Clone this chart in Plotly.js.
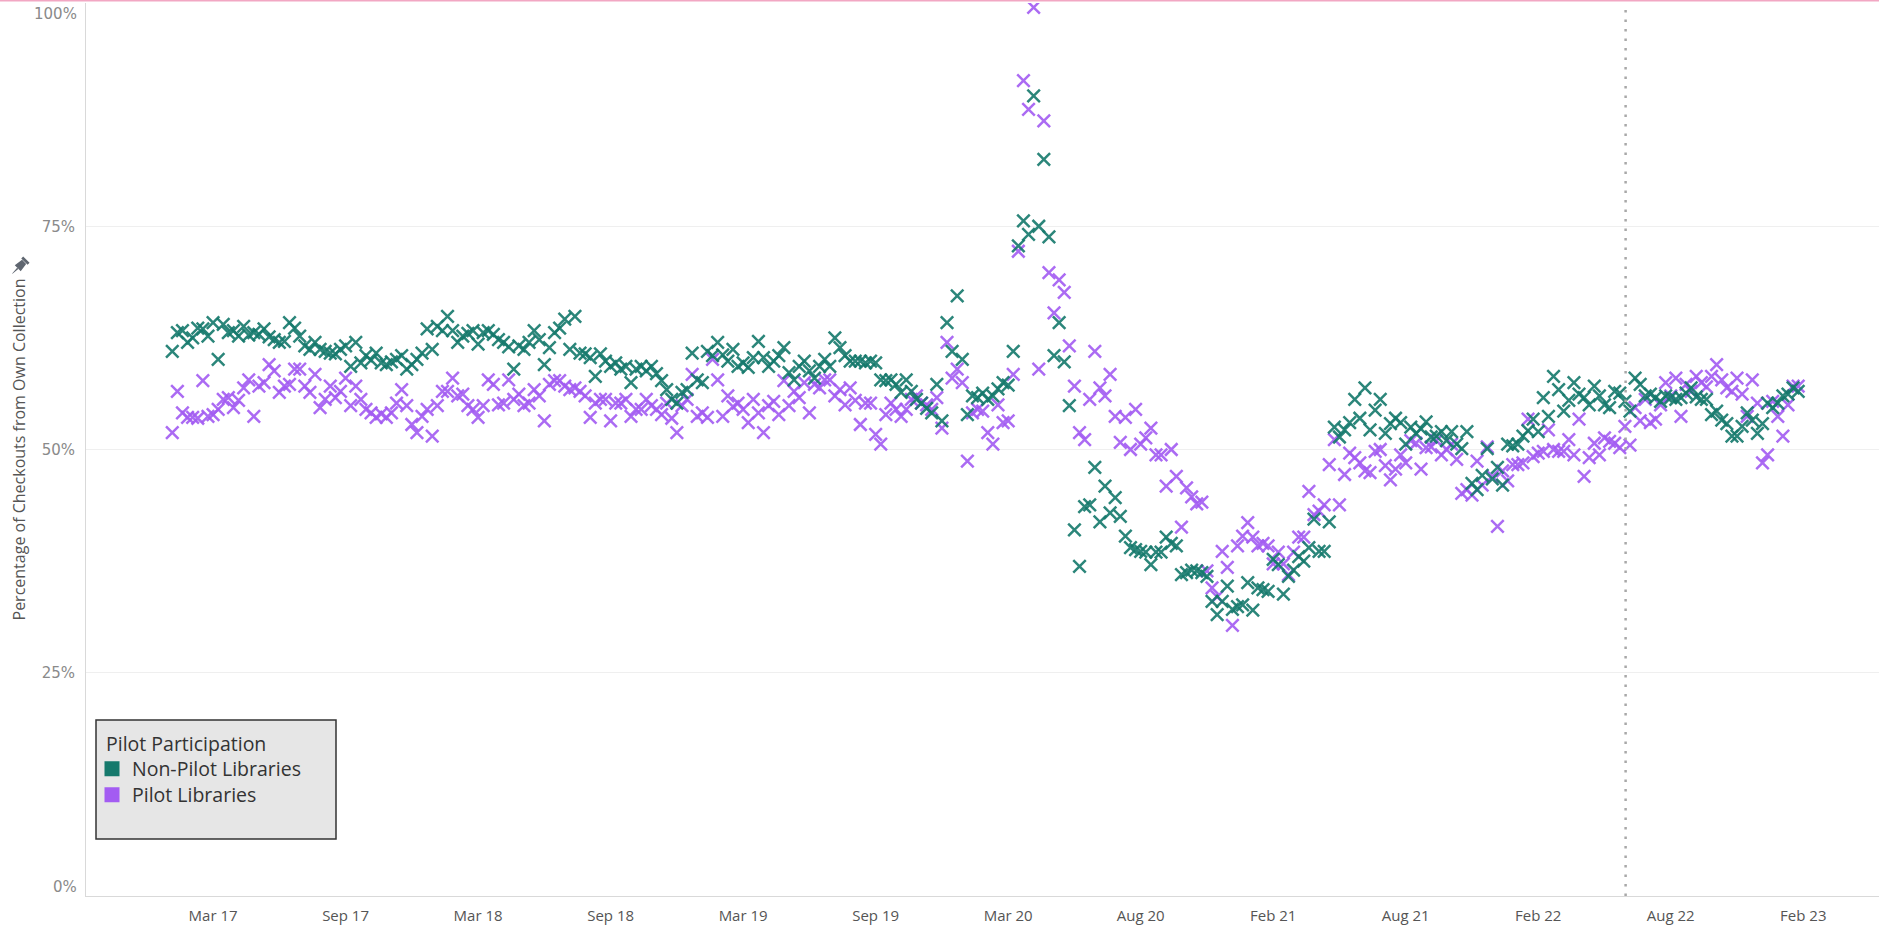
<!DOCTYPE html>
<html><head><meta charset="utf-8">
<script src="https://cdn.plot.ly/plotly-3.0.1.min.js"></script>
<style>html,body{margin:0;padding:0;background:#fff;overflow:hidden}#chart{width:1879px;height:928px}</style>
</head><body><div id="chart"></div>
<script>
// Weekly series, first week starting 2017-01-08
const FIRST_WEEK = '2017-01-08';

const nonPilot = [
61.0,63.1,63.3,62.0,62.5,63.6,63.5,62.7,64.2,60.1,
64.0,63.1,63.3,62.7,63.8,62.8,63.1,62.9,63.5,62.6,
62.3,62.0,62.1,64.2,63.6,62.7,61.6,61.2,62.0,61.2,
61.0,60.8,60.7,61.2,61.6,59.3,62.0,59.7,60.5,60.0,
60.8,59.7,59.5,59.8,60.1,60.5,59.0,59.5,60.1,60.8,
63.5,61.2,63.8,63.3,64.9,63.3,62.0,62.7,63.0,63.3,
61.8,63.1,63.3,62.9,62.3,62.0,61.5,59.0,61.6,61.2,
62.0,63.3,62.3,59.5,61.4,63.1,63.6,64.6,61.2,64.9,
60.8,60.7,60.3,58.2,60.7,59.9,59.3,59.7,59.0,59.3,
57.5,59.0,59.3,58.8,59.3,58.5,57.7,56.7,55.6,55.2,
56.4,56.7,60.8,57.8,57.5,61.0,60.5,62.0,60.6,59.9,
61.2,59.3,59.7,59.2,60.3,62.1,60.3,59.3,59.9,60.5,
61.4,58.6,57.8,59.3,59.9,58.8,58.0,59.3,60.1,59.3,
62.5,61.4,60.5,59.9,59.9,59.9,59.7,59.9,59.7,57.8,
57.7,57.8,57.3,56.4,57.8,56.5,55.6,55.2,54.6,54.1,
57.3,53.2,64.2,61.0,67.2,60.1,53.9,56.0,55.8,56.3,
55.6,56.0,56.8,57.5,57.2,61.0,72.8,75.6,74.1,89.6,
75.0,82.5,73.8,60.5,64.2,59.8,54.9,41.0,36.9,43.6,
43.8,48.0,41.9,45.9,42.9,44.6,42.5,40.3,39.0,38.8,
38.6,38.5,37.1,38.5,38.5,40.2,39.5,39.2,36.0,36.2,
36.5,36.4,36.2,35.8,33.0,31.5,33.0,34.7,32.1,32.4,
32.6,35.1,32.0,34.5,34.3,34.1,37.7,37.1,33.8,35.8,
36.5,38.0,37.5,39.0,42.2,38.6,38.6,41.9,52.5,51.4,
52.2,53.0,55.6,53.5,56.9,52.2,54.4,55.6,51.8,52.9,
53.5,53.0,50.6,52.5,51.8,52.3,53.1,51.4,51.5,52.0,
51.0,52.0,50.6,50.1,52.0,46.2,45.5,47.1,50.1,46.7,
48.0,46.0,50.6,50.4,50.6,51.5,52.1,53.4,52.0,55.8,
53.7,58.2,56.7,54.3,55.5,57.5,56.2,55.8,55.0,57.1,
56.0,55.0,54.7,56.5,56.3,55.4,54.3,58.0,57.3,56.0,
56.2,55.8,55.4,56.0,55.8,55.6,55.8,56.3,56.9,55.9,
55.6,55.6,53.9,54.3,53.3,52.9,51.5,51.5,52.6,54.1,
53.3,51.8,52.9,55.2,54.7,55.2,56.0,56.2,56.9,56.5
];

const pilot = [
51.9,56.5,54.1,53.6,53.6,53.5,57.7,53.7,53.9,54.5,
55.6,55.8,54.7,55.5,56.9,57.8,53.7,57.1,57.5,59.5,
58.8,56.4,57.1,57.3,59.0,59.0,57.1,56.4,58.4,54.7,
55.6,57.1,55.8,56.5,58.0,54.9,57.1,55.6,54.5,54.1,
53.6,54.0,53.6,54.1,55.2,56.7,54.9,52.8,51.9,53.7,
54.5,51.5,54.9,56.5,56.5,58.0,56.0,56.2,54.9,54.5,
53.6,54.9,57.8,57.3,55.0,55.2,57.8,55.6,56.2,54.9,
55.2,56.7,56.0,53.2,57.3,57.7,57.7,57.1,56.7,56.9,
56.5,56.0,53.6,55.2,55.6,55.6,53.2,55.2,55.2,55.6,
53.7,54.5,54.5,55.6,54.9,54.5,53.9,55.2,53.5,51.9,
54.9,55.6,58.4,53.7,54.1,53.6,60.1,57.8,53.7,56.0,
54.8,55.2,54.5,53.0,55.6,54.1,51.9,54.9,55.4,53.9,
57.7,54.9,56.5,55.8,57.5,54.1,57.3,56.9,57.8,57.8,
56.0,56.7,55.0,56.9,55.5,52.8,55.2,55.2,51.7,50.6,
53.9,55.2,54.5,53.7,54.5,55.6,56.0,55.2,55.0,54.5,
55.8,52.4,62.0,58.0,59.0,57.5,48.7,54.1,54.5,54.3,
51.9,50.6,55.0,53.0,53.2,58.4,72.2,91.3,88.1,99.5,
59.0,86.8,69.8,65.3,69.0,67.6,61.6,57.1,51.9,51.1,
55.6,61.0,56.9,56.0,58.4,53.7,50.8,53.6,50.0,54.5,
50.6,51.3,52.4,49.4,49.4,45.9,50.0,47.0,41.3,45.7,
44.7,43.9,44.1,36.4,34.5,33.5,38.6,36.8,30.3,39.2,
40.3,41.8,40.2,39.2,39.5,39.2,37.2,38.5,37.2,36.0,
38.5,40.2,40.2,45.3,42.7,43.1,43.8,48.3,51.1,43.8,
47.2,49.6,49.1,48.5,47.6,47.4,49.8,50.0,48.2,46.6,
47.8,49.4,48.5,51.0,50.7,47.8,50.2,50.3,51.0,49.4,
50.0,50.6,48.9,45.1,45.5,44.9,48.7,46.0,50.3,47.0,
41.4,47.6,46.5,48.3,48.3,48.5,53.4,49.2,49.6,49.8,
52.2,50.0,49.8,49.8,51.1,49.4,53.4,47.0,49.1,50.7,
49.4,51.3,50.9,50.7,50.2,52.6,50.5,54.7,53.2,55.6,
53.0,53.4,55.0,57.5,56.0,58.0,53.7,57.3,56.5,58.2,
57.5,57.0,58.2,59.5,57.8,56.9,56.5,58.0,56.2,53.7,
57.8,55.2,48.5,49.4,55.4,53.7,51.5,55.0,57.1,57.1
];

const seriesNames = ['Non-Pilot Libraries', 'Pilot Libraries'];
const legendTitle = 'Pilot Participation';
const yTitle = 'Percentage of Checkouts from Own Collection';
const tickDates = ['2017-03-05','2017-09-03','2018-03-04','2018-09-02','2019-03-03','2019-09-01','2020-03-01','2020-08-30','2021-02-28','2021-08-29','2022-02-27','2022-08-28','2023-02-26'];
const tickLabels = ['Mar 17','Sep 17','Mar 18','Sep 18','Mar 19','Sep 19','Mar 20','Aug 20','Feb 21','Aug 21','Feb 22','Aug 22','Feb 23'];
const yTickVals = [25, 50, 75];
const yTickLabels = ['25%', '50%', '75%'];
const yEdgeVals = [0, 100];
const yEdgeLabels = ['0%', '100%'];
const pilotStartDate = '2022-06-27';

const TEAL = '#15796c';
const PURPLE = '#a35cf2';

function weekDates(n) {
  const p = FIRST_WEEK.split('-').map(Number);
  const t0 = Date.UTC(p[0], p[1] - 1, p[2]);
  const out = [];
  for (let i = 0; i < n; i++) out.push(new Date(t0 + i * 7 * 86400000).toISOString().slice(0, 10));
  return out;
}
const weeks = weekDates(nonPilot.length);

function markerTrace(vals, name, color) {
  return {
    type: 'scatter', mode: 'markers', x: weeks, y: vals, name: name,
    showlegend: false, hoverinfo: 'x+y+name',
    marker: { symbol: 'x-thin', size: 12.5, color: color, opacity: 0.9, line: { width: 2.5, color: color } },
    cliponaxis: true
  };
}
function legendTrace(name, color, legendId) {
  return {
    type: 'scatter', mode: 'markers', x: [null], y: [null], name: name,
    showlegend: true, hoverinfo: 'skip', legend: legendId,
    marker: { symbol: 'square', size: 15, color: color }
  };
}

const data = [
  markerTrace(pilot, seriesNames[1], PURPLE),
  markerTrace(nonPilot, seriesNames[0], TEAL),
  legendTrace(seriesNames[0], TEAL, 'legend'),
  legendTrace(seriesNames[1], PURPLE, 'legend2')
];

const W = 1879, H = 928, ML = 86, MR = 0, MT = 3, MB = 32;
const PW = W - ML - MR, PH = H - MT - MB;
const px = v => (v - ML) / PW;          // page x -> paper x
const py = v => (H - MB - v) / PH;      // page y -> paper y

// pushpin icon next to the axis title (page-pixel geometry, rotated 45deg)
function pinPath(cx, cy, s) {
  const polys = [
    [[-0.6,2],[0.6,2],[0.15,7.5],[-0.15,7.5]],
    [[-2,-4],[2,-4],[2.9,2.2],[-2.9,2.2]],
    [[-3.1,-6.2],[3.1,-6.2],[3.1,-4.3],[-3.1,-4.3]]
  ];
  const c = Math.cos(Math.PI / 4), sn = Math.sin(Math.PI / 4);
  return polys.map(poly => poly.map((p, i) => {
    const x = cx + s * (p[0] * c - p[1] * sn);
    const y = cy + s * (p[0] * sn + p[1] * c);
    return (i ? 'L' : 'M') + px(x).toFixed(5) + ',' + py(y).toFixed(5);
  }).join(' ') + ' Z').join(' ');
}

const annotations = yEdgeVals.map((v, i) => ({
  xref: 'paper', yref: 'y', x: px(79), y: v, xanchor: 'right', yanchor: 'middle',
  text: yEdgeLabels[i], showarrow: false, yshift: v === 0 ? 9 : -11,
  font: { family: 'DejaVu Sans', size: 15, color: '#8a8a8a' }
}));
annotations.push({
  xref: 'paper', yref: 'paper', x: px(104), y: py(743), xanchor: 'left', yanchor: 'middle',
  text: legendTitle, showarrow: false,
  font: { family: 'Open Sans', size: 19.5, color: '#333' }
});

const legendBase = {
  xanchor: 'left', yanchor: 'middle', bgcolor: 'rgba(0,0,0,0)', borderwidth: 0,
  font: { family: 'Open Sans', size: 19.5, color: '#333' }, itemsizing: 'trace'
};

const layout = {
  width: W, height: H,
  margin: { l: ML, r: MR, t: MT, b: MB, pad: 0 },
  paper_bgcolor: '#ffffff', plot_bgcolor: '#ffffff',
  font: { family: 'Open Sans, sans-serif', color: '#555' },
  showlegend: true,
  xaxis: {
    type: 'date', range: ['2016-09-11 12:00', '2023-06-10'],
    tickvals: tickDates, ticktext: tickLabels, ticks: '', showgrid: false,
    zeroline: false, showline: true, linecolor: '#d9d9d9', linewidth: 1,
    tickfont: { family: 'Open Sans', size: 15, color: '#555' },
    ticklabelstandoff: 6, fixedrange: true
  },
  yaxis: {
    range: [0, 100], tickvals: yTickVals, ticktext: yTickLabels, ticks: '',
    showgrid: true, gridcolor: '#efefef', gridwidth: 1, zeroline: false,
    showline: true, linecolor: '#d9d9d9', linewidth: 1,
    tickfont: { family: 'DejaVu Sans', size: 15, color: '#8a8a8a' },
    ticklabelstandoff: 7, automargin: false, fixedrange: true,
    title: { text: yTitle, font: { family: 'Open Sans', size: 16, color: '#555' }, standoff: 12 }
  },
  legend: Object.assign({}, legendBase, { x: px(92), y: py(769) }),
  legend2: Object.assign({}, legendBase, { x: px(92), y: py(795) }),
  shapes: [
    { type: 'rect', xref: 'paper', yref: 'paper', x0: px(96), x1: px(336), y0: py(839), y1: py(720),
      fillcolor: '#e6e6e6', line: { color: '#333', width: 1.5 }, layer: 'below' },
    { type: 'line', xref: 'x', yref: 'paper', x0: pilotStartDate, x1: pilotStartDate, y0: 0, y1: 1,
      line: { color: '#a8a8a8', width: 2.5, dash: '2.5px,7px' } },
    { type: 'line', xref: 'paper', yref: 'paper', x0: px(0), x1: px(W), y0: py(0.8), y1: py(0.8),
      line: { color: '#f2a7c3', width: 1.6 } },
    { type: 'path', xref: 'paper', yref: 'paper', path: pinPath(20, 266, 1.45),
      fillcolor: '#5f6670', line: { width: 0 } }
  ],
  annotations: annotations
};

Plotly.newPlot('chart', data, layout, { displayModeBar: false, staticPlot: true });
</script>
</body></html>
